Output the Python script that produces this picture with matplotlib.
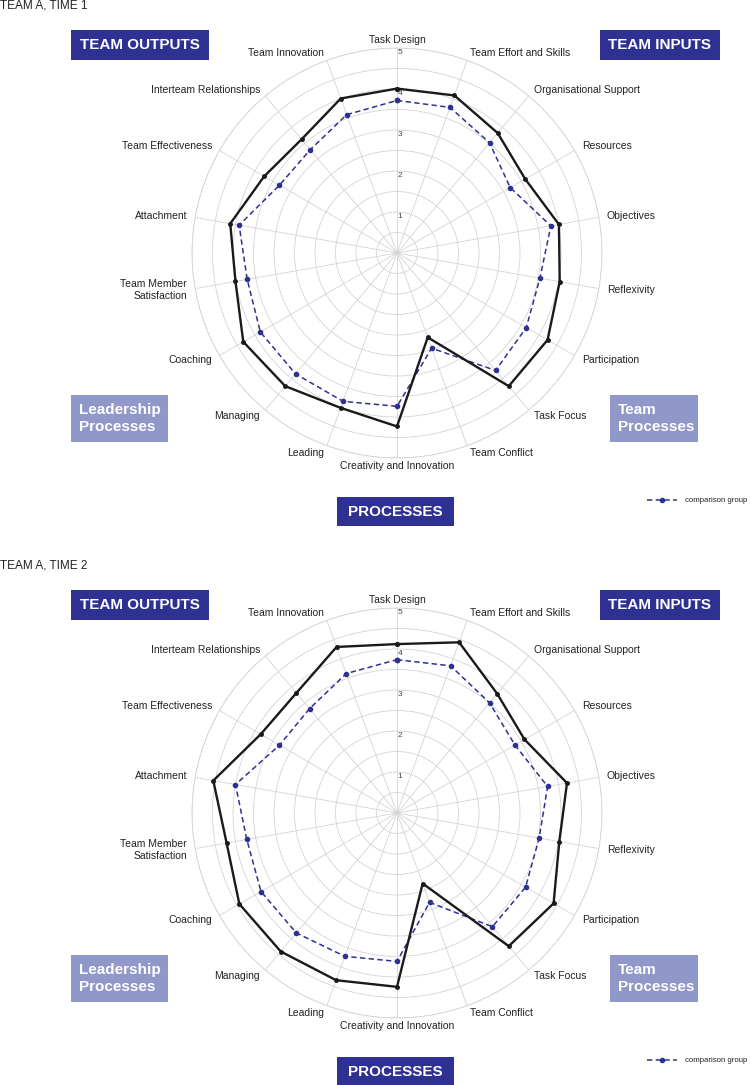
import numpy as np
import matplotlib
matplotlib.use("Agg")
import matplotlib.pyplot as plt
import matplotlib.patches as patches
import matplotlib.transforms as mtransforms
from matplotlib.lines import Line2D

plt.rcParams['font.family'] = ['Liberation Sans', 'DejaVu Sans']

###############################################################################
# Data
categories = ["Task Design", "Team Effort and Skills", "Organisational Support",
              "Resources", "Objectives", "Reflexivity", "Participation",
              "Task Focus", "Team Conflict", "Creativity and Innovation",
              "Leading", "Managing", "Coaching", "Team Member\nSatisfaction",
              "Attachment", "Team Effectiveness", "Interteam Relationships",
              "Team Innovation"]

team_time1 = [4.01, 4.09, 3.82, 3.61, 4.01, 4.03, 4.24, 4.24, 2.19, 4.23,
              4.02, 4.24, 4.33, 4.00, 4.13, 3.74, 3.62, 4.01]
comp_time1 = [3.72, 3.78, 3.51, 3.19, 3.81, 3.54, 3.64, 3.74, 2.47, 3.74,
              3.85, 3.85, 3.85, 3.71, 3.91, 3.31, 3.29, 3.59]

team_time2 = [4.12, 4.43, 3.80, 3.59, 4.21, 4.02, 4.41, 4.24, 1.83, 4.24,
              4.34, 4.41, 4.44, 4.22, 4.55, 3.84, 3.82, 4.31]
comp_time2 = [3.74, 3.82, 3.51, 3.32, 3.73, 3.52, 3.62, 3.62, 2.32, 3.62,
              3.72, 3.82, 3.83, 3.72, 4.00, 3.31, 3.32, 3.62]

titles = ["TEAM A, TIME 1", "TEAM A, TIME 2"]
r_labels = [1, 2, 3, 4, 5]
legend_label = "comparison group"

###############################################################################
W, H = 750, 1085
DARK = "#2e3192"
LIGHT = "#9097c9"
GRID = "#d4d4d4"

fig = plt.figure(figsize=(W / 100, H / 100), dpi=100)


def fx(x):
    return x / W


def fy(y):
    return 1 - y / H


# Draws a filled box with white bold text (pixel coords, top-left origin)
def label_box(x0, y0, x1, y1, text, color, ha="center"):
    rect = patches.Rectangle((fx(x0), fy(y1)), fx(x1) - fx(x0), fy(y0) - fy(y1),
                             transform=fig.transFigure, color=color, lw=0)
    fig.add_artist(rect)
    if ha == "center":
        tx = (x0 + x1) / 2
    else:
        tx = x0 + 8
    fig.text(fx(tx), fy((y0 + y1) / 2), text, color="white", fontsize=11,
             fontweight="bold", ha=ha, va="center", linespacing=1.2)


def radar(dy, team, comp, title):
    cx, cy, R = 397, 253 + dy, 205
    ax = fig.add_axes([fx(cx - R), fy(cy + R), 2 * R / W, 2 * R / H],
                      projection="polar")
    ax.set_theta_zero_location("N")
    ax.set_theta_direction(-1)
    n = len(categories)
    angles = np.linspace(0, 2 * np.pi, n, endpoint=False)
    ax.set_xticks(angles)
    ax.set_xticklabels([])
    ax.set_yticks(np.arange(0.5, 5.01, 0.5))
    ax.set_yticklabels([])
    ax.set_ylim(0, 5)
    ax.grid(True, color=GRID, lw=0.6)
    ax.spines["polar"].set_color(GRID)
    ax.spines["polar"].set_linewidth(0.6)
    ax.tick_params(length=0)

    closed = np.append(angles, angles[0])
    ax.plot(closed, team + team[:1], color="#1a1a1a", lw=1.7,
            marker="o", ms=2.5, zorder=4, clip_on=False)
    ax.plot(closed, comp + comp[:1], color=DARK, lw=1.1, ls=(0, (3.5, 2.2)),
            marker="o", ms=3, zorder=3, clip_on=False)

    # radial value labels just right of the top spoke
    off = mtransforms.offset_copy(ax.transData, fig=fig, x=3, y=0, units="dots")
    for v in r_labels:
        ax.text(0, v - 0.1, str(v), transform=off, fontsize=6, color="#444444",
                ha="center", va="center")

    # category labels
    for a, name in zip(angles, categories):
        deg = np.rad2deg(a)
        if deg < 1 or abs(deg - 180) < 1:
            ha = "center"
        elif deg < 180:
            ha = "left"
        else:
            ha = "right"
        ax.text(a, 5.2, name, fontsize=7.5, color="#222222", ha=ha, va="center",
                multialignment="right", linespacing=1.2, clip_on=False)

    fig.text(fx(0), fy(6 + dy), title, fontsize=8.5, color="#222222",
             ha="left", va="center")

    label_box(71, 30 + dy, 209, 60 + dy, "TEAM OUTPUTS", DARK)
    label_box(600, 30 + dy, 720, 60 + dy, "TEAM INPUTS", DARK)
    label_box(71, 395 + dy, 168, 442 + dy, "Leadership\nProcesses", LIGHT, ha="left")
    label_box(610, 395 + dy, 698, 442 + dy, "Team\nProcesses", LIGHT, ha="left")
    label_box(337, 497 + dy, 454, 526 + dy, "PROCESSES", DARK)

    # legend
    ly = 500 + dy
    fig.add_artist(Line2D([fx(647), fx(677)], [fy(ly), fy(ly)],
                          transform=fig.transFigure, color=DARK, lw=1.1,
                          ls=(0, (3.5, 2.2))))
    fig.add_artist(Line2D([fx(662)], [fy(ly)], transform=fig.transFigure,
                          color=DARK, marker="o", ms=3, lw=0))
    fig.text(fx(685), fy(ly), legend_label, fontsize=5.6, color="#222222",
             ha="left", va="center")


radar(0, team_time1, comp_time1, titles[0])
radar(560, team_time2, comp_time2, titles[1])

fig.savefig("out.png", dpi=100)
